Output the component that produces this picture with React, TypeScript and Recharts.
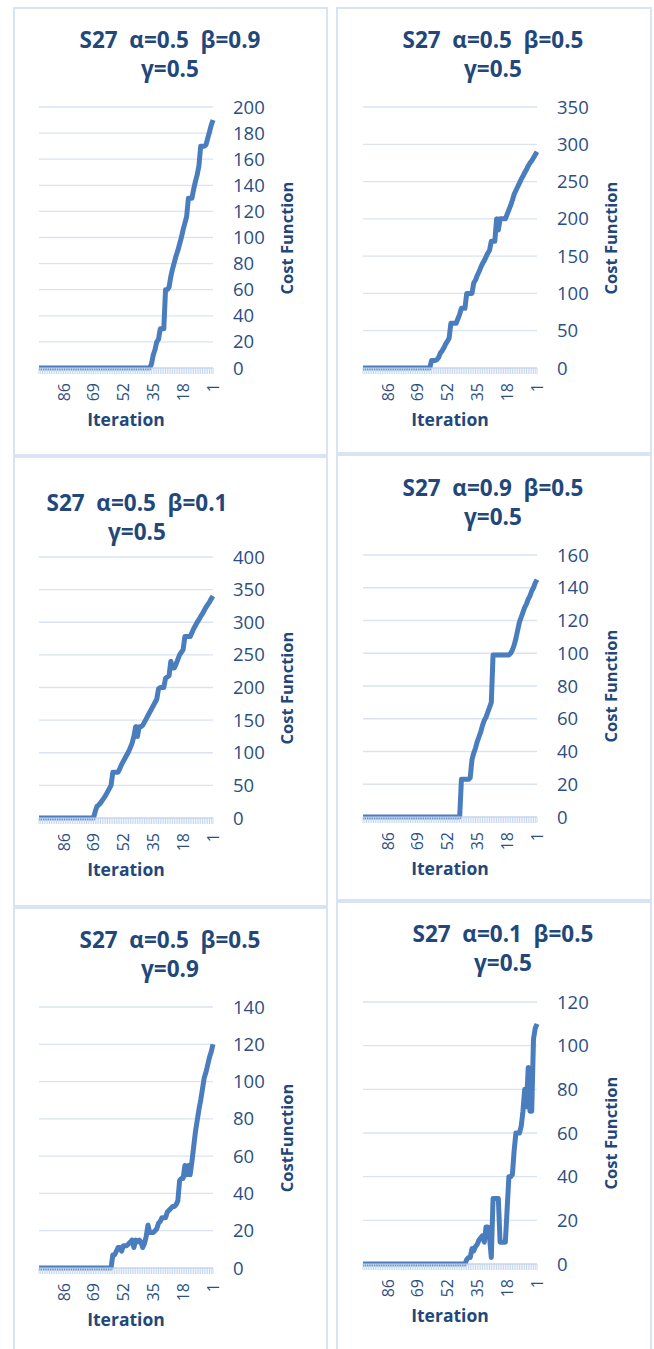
import { LineChart, Line, XAxis, YAxis, CartesianGrid } from "recharts";

// iteration numbers (x categories), drawn right-to-left
const ITERATIONS = Array.from({ length: 100 }, (_, i) => i + 1);
const X_LABELS = [1, 18, 35, 52, 69, 86];

// cost function values, index 0 = iteration 1
const COST_A05_B09 = [
  190, 186, 181, 176, 171, 170, 170, 170, 155, 148,
  143, 137, 130, 130, 130, 116, 111, 106, 100, 95,
  90, 86, 81, 76, 70, 62, 60, 60, 30, 30,
  30, 22, 20, 14, 10, 3, 0, 0, 0, 0,
  0, 0, 0, 0, 0, 0, 0, 0, 0, 0,
  0, 0, 0, 0, 0, 0, 0, 0, 0, 0,
  0, 0, 0, 0, 0, 0, 0, 0, 0, 0,
  0, 0, 0, 0, 0, 0, 0, 0, 0, 0,
  0, 0, 0, 0, 0, 0, 0, 0, 0, 0,
  0, 0, 0, 0, 0, 0, 0, 0, 0, 0,
];
const COST_A05_B05 = [
  290, 286, 282, 278, 275, 271, 266, 262, 257, 253,
  248, 243, 238, 233, 225, 218, 212, 206, 200, 200,
  200, 200, 185, 200, 170, 170, 170, 158, 154, 149,
  144, 140, 135, 129, 124, 118, 114, 100, 100, 100,
  100, 80, 80, 80, 72, 66, 60, 60, 60, 60,
  40, 36, 32, 27, 23, 20, 14, 11, 10, 10,
  10, 0, 0, 0, 0, 0, 0, 0, 0, 0,
  0, 0, 0, 0, 0, 0, 0, 0, 0, 0,
  0, 0, 0, 0, 0, 0, 0, 0, 0, 0,
  0, 0, 0, 0, 0, 0, 0, 0, 0, 0,
];
const COST_A05_B01 = [
  340, 336, 331, 327, 323, 318, 313, 309, 304, 300,
  295, 290, 284, 278, 278, 278, 278, 258, 254, 250,
  243, 236, 230, 230, 240, 218, 216, 214, 200, 200,
  200, 198, 182, 177, 172, 167, 162, 157, 152, 147,
  142, 140, 140, 125, 140, 125, 115, 108, 102, 97,
  92, 87, 82, 76, 70, 70, 70, 70, 50, 45,
  40, 35, 31, 27, 23, 20, 18, 10, 0, 0,
  0, 0, 0, 0, 0, 0, 0, 0, 0, 0,
  0, 0, 0, 0, 0, 0, 0, 0, 0, 0,
  0, 0, 0, 0, 0, 0, 0, 0, 0, 0,
];
const COST_A09_B05 = [
  145, 143, 140, 138, 135, 133, 130, 128, 125, 122,
  119, 114, 109, 105, 102, 100, 99, 99, 99, 99,
  99, 99, 99, 99, 99, 99, 70, 67, 64, 61,
  59, 56, 52, 49, 46, 42, 39, 35, 24, 23,
  23, 23, 23, 23, 0, 0, 0, 0, 0, 0,
  0, 0, 0, 0, 0, 0, 0, 0, 0, 0,
  0, 0, 0, 0, 0, 0, 0, 0, 0, 0,
  0, 0, 0, 0, 0, 0, 0, 0, 0, 0,
  0, 0, 0, 0, 0, 0, 0, 0, 0, 0,
  0, 0, 0, 0, 0, 0, 0, 0, 0, 0,
];
const COST_G09 = [
  120, 116, 113, 109, 105, 102, 96, 90, 85, 79,
  73, 65, 57, 50, 55, 50, 55, 48, 48, 47,
  36, 34, 33, 33, 32, 31, 30, 27, 27, 27,
  25, 24, 21, 20, 19, 19, 19, 23, 17, 13,
  11, 14, 15, 14, 15, 11, 15, 14, 13, 12,
  12, 12, 9, 11, 11, 9, 7, 7, 0, 0,
  0, 0, 0, 0, 0, 0, 0, 0, 0, 0,
  0, 0, 0, 0, 0, 0, 0, 0, 0, 0,
  0, 0, 0, 0, 0, 0, 0, 0, 0, 0,
  0, 0, 0, 0, 0, 0, 0, 0, 0, 0,
];
const COST_A01_B05 = [
  110, 108, 103, 70, 70, 90, 72, 80, 70, 63,
  60, 60, 60, 52, 41, 40, 40, 25, 10, 10,
  10, 10, 30, 30, 30, 30, 3, 12, 17, 17,
  10, 13, 12, 11, 9, 8, 6, 7, 3, 3,
  2, 0, 0, 0, 0, 0, 0, 0, 0, 0,
  0, 0, 0, 0, 0, 0, 0, 0, 0, 0,
  0, 0, 0, 0, 0, 0, 0, 0, 0, 0,
  0, 0, 0, 0, 0, 0, 0, 0, 0, 0,
  0, 0, 0, 0, 0, 0, 0, 0, 0, 0,
  0, 0, 0, 0, 0, 0, 0, 0, 0, 0,
];

const TICKS_200 = [0, 20, 40, 60, 80, 100, 120, 140, 160, 180, 200];
const TICKS_350 = [0, 50, 100, 150, 200, 250, 300, 350];
const TICKS_400 = [0, 50, 100, 150, 200, 250, 300, 350, 400];
const TICKS_160 = [0, 20, 40, 60, 80, 100, 120, 140, 160];
const TICKS_140 = [0, 20, 40, 60, 80, 100, 120, 140];
const TICKS_120 = [0, 20, 40, 60, 80, 100, 120];

const TEXT = "#22477a";
const TICK_TEXT = "#2b4f84";
const LINE = "#4a7dbd";
const GRID = "#d9e3f1";
const BORDER = "#d8e3f3";
const FONT = "'Open Sans', sans-serif";
const TOP = 20; // room above the plot for the top tick label

const panels = [
  { line1: "S27  α=0.5  β=0.9", line2: "γ=0.5", values: COST_A05_B09, ticks: TICKS_200, yLabel: "Cost Function",
    box: [13, 7, 328, 456], plot: [39, 107, 213, 368], titleX: 170, titleY: 39 },
  { line1: "S27  α=0.5  β=0.5", line2: "γ=0.5", values: COST_A05_B05, ticks: TICKS_350, yLabel: "Cost Function",
    box: [336, 7, 652, 454], plot: [363, 107, 537, 368], titleX: 493, titleY: 39 },
  { line1: "S27  α=0.5  β=0.1", line2: "γ=0.5", values: COST_A05_B01, ticks: TICKS_400, yLabel: "Cost Function",
    box: [13, 456, 328, 907], plot: [39, 557, 213, 818], titleX: 137, titleY: 502 },
  { line1: "S27  α=0.9  β=0.5", line2: "γ=0.5", values: COST_A09_B05, ticks: TICKS_160, yLabel: "Cost Function",
    box: [336, 454, 652, 901], plot: [363, 555, 537, 817], titleX: 493, titleY: 487 },
  { line1: "S27  α=0.5  β=0.5", line2: "γ=0.9", values: COST_G09, ticks: TICKS_140, yLabel: "CostFunction",
    box: [13, 907, 328, 1360], plot: [39, 1007, 213, 1268], titleX: 170, titleY: 939 },
  { line1: "S27  α=0.1  β=0.5", line2: "γ=0.5", values: COST_A01_B05, ticks: TICKS_120, yLabel: "Cost Function",
    box: [336, 901, 652, 1360], plot: [363, 1002, 537, 1264], titleX: 503, titleY: 933 },
];

const IterTick = ({ x, y, payload }: any) => {
  if (!X_LABELS.includes(payload.value)) return null;
  const ty = y + 7;
  return (
    <text
      x={x}
      y={ty}
      transform={`rotate(-90, ${x}, ${ty})`}
      textAnchor="end"
      dominantBaseline="central"
      fill={TICK_TEXT}
      fontSize={16}
      fontFamily={FONT}
    >
      {payload.value}
    </text>
  );
};

function Panel({ p }: { p: (typeof panels)[number] }) {
  const [bl, bt, br, bb] = p.box;
  const [pl, pt, pr, pb] = p.plot;
  const plotW = pr - pl;
  const plotH = pb - pt;
  const data = ITERATIONS.map((it, i) => ({ it, v: p.values[i] }));
  const max = p.ticks[p.ticks.length - 1];

  return (
    <>
      <div
        style={{
          position: "absolute",
          left: bl,
          top: bt,
          width: br - bl,
          height: bb - bt,
          border: `2px solid ${BORDER}`,
          boxSizing: "border-box",
        }}
      />
      <div
        style={{
          position: "absolute",
          left: p.titleX - 150,
          top: p.titleY - 14.5,
          width: 300,
          textAlign: "center",
          whiteSpace: "pre",
          fontWeight: 700,
          fontSize: 22.5,
          lineHeight: "29px",
          color: TEXT,
        }}
      >
        {p.line1}
        {"\n"}
        {p.line2}
      </div>
      <div style={{ position: "absolute", left: pl - 10, top: pt - TOP }}>
        <LineChart
          width={plotW + 100}
          height={plotH + TOP + 60}
          data={data}
          margin={{ top: TOP, left: 10, right: 0, bottom: 0 }}
          style={{ fontFamily: FONT }}
        >
          <CartesianGrid stroke={GRID} strokeWidth={1.3} vertical={false} />
          <XAxis
            dataKey="it"
            reversed
            interval={0}
            height={60}
            tickSize={6}
            tickMargin={2}
            axisLine={{ stroke: "#c6d7ee", strokeWidth: 1 }}
            tickLine={{ stroke: "#c6d7ee", strokeWidth: 1 }}
            tick={<IterTick />}
          />
          <YAxis
            orientation="right"
            width={90}
            domain={[0, max]}
            ticks={p.ticks}
            interval={0}
            axisLine={false}
            tickLine={false}
            tickSize={0}
            tickMargin={20}
            tick={{ fill: TICK_TEXT, fontSize: 18.5, fontFamily: FONT }}
          />
          <Line
            type="linear"
            dataKey="v"
            stroke={LINE}
            strokeWidth={5}
            strokeLinejoin="round"
            dot={false}
            isAnimationActive={false}
          />
        </LineChart>
      </div>
      <div
        style={{
          position: "absolute",
          left: (pl + pr) / 2 - 60,
          top: pb + 51 - 12,
          width: 120,
          textAlign: "center",
          fontWeight: 700,
          fontSize: 17.5,
          lineHeight: "24px",
          color: TEXT,
        }}
      >
        Iteration
      </div>
      <div
        style={{
          position: "absolute",
          left: pr + 74 - 80,
          top: (pt + pb) / 2 - 11,
          width: 160,
          textAlign: "center",
          fontWeight: 700,
          fontSize: 16.5,
          lineHeight: "22px",
          color: TEXT,
          transform: "rotate(-90deg)",
        }}
      >
        {p.yLabel}
      </div>
    </>
  );
}

export default function App() {
  return (
    <div
      style={{
        position: "absolute",
        left: 0,
        top: 0,
        width: 654,
        height: 1349,
        overflow: "hidden",
        background: "#fff",
        fontFamily: FONT,
      }}
    >
      {panels.map((p, i) => (
        <Panel key={i} p={p} />
      ))}
    </div>
  );
}
